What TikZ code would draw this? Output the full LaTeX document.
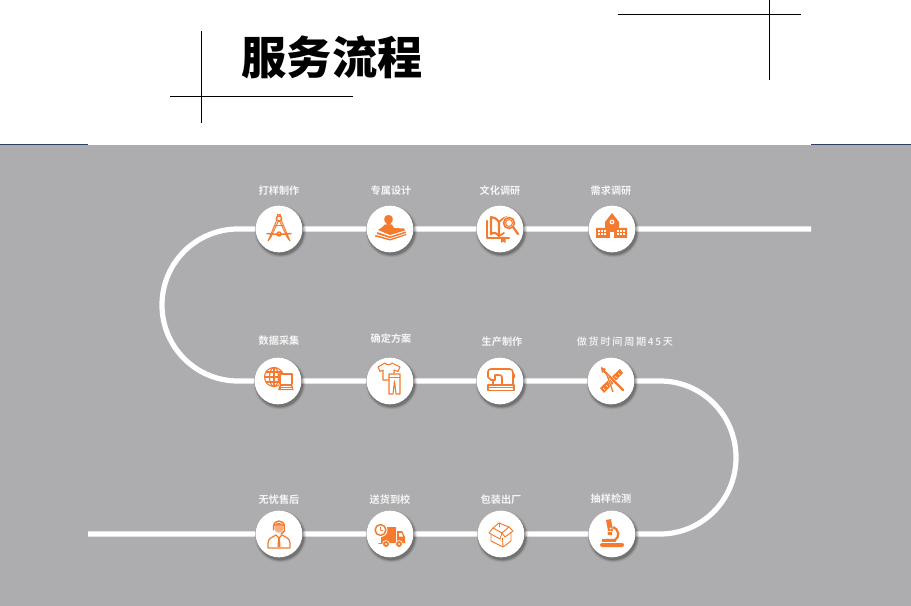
\documentclass[tikz,border=0pt]{standalone}
\usepackage{fontspec}
\setmainfont{Noto Sans CJK SC}[BoldFont={Noto Sans CJK SC Bold}]
\newfontfamily\titlefont{Noto Sans CJK SC Black}
\newfontfamily\labelfont{Noto Sans CJK SC Bold}
\newfontfamily\spacedfont{Noto Sans CJK SC Medium}[LetterSpace=17]
\usetikzlibrary{backgrounds}
\definecolor{bggray}{HTML}{ADADAF}
\definecolor{iconor}{HTML}{F37A2F}
\definecolor{rulecol}{HTML}{2E3F66}
\tikzset{
  x=0.75pt,y=-0.75pt,
  disc/.style={circle,fill=white,minimum size=35pt,inner sep=0pt},
  caption/.style={text=white!96!black,font=\labelfont\fontsize{7.6pt}{9pt}\selectfont,inner sep=0pt},
  road/.style={draw=white,line width=3.9pt},
  thin rule/.style={draw=black,line width=0.6pt},
  ol/.style={draw=iconor,line width=0.7pt,line join=round,line cap=round},
  ok/.style={draw=iconor,line width=1.1pt,line join=round,line cap=round},
  fl/.style={fill=iconor},
  wl/.style={fill=white}
}
\begin{document}
\begin{tikzpicture}
\useasboundingbox (0,0) rectangle (911,606);
\coordinate (roadstart) at (811,229);
\coordinate (roadend) at (88,534);
\node[disc] (a1) at (279,229) {};
\node[disc] (a2) at (390,229) {};
\node[disc] (a3) at (500,229) {};
\node[disc] (a4) at (612,229) {};
\node[disc] (b1) at (278,381) {};
\node[disc] (b2) at (390,381) {};
\node[disc] (b3) at (500,381) {};
\node[disc] (b4) at (611,381) {};
\node[disc] (c1) at (279,534) {};
\node[disc] (c2) at (390,534) {};
\node[disc] (c3) at (501,534) {};
\node[disc] (c4) at (612,534) {};
\begin{scope}[on background layer]
  \fill[bggray] (0,145) rectangle (911,606);
  \coordinate (rl1) at (0,145);\coordinate (rl2) at (88,145);
  \coordinate (rr1) at (811,145);\coordinate (rr2) at (911,145);
  \draw[rulecol,line width=0.75pt] (rl1) -- (rl2);
  \draw[rulecol,line width=0.75pt] (rr1) -- (rr2);
  \draw[road] (roadstart) -- (a4) -- (a3) -- (a2) -- (a1) -- (238,229)
     .. controls (196,229) and (162,263) .. (162,305)
     .. controls (162,347) and (196,381) .. (238,381)
     -- (b1) -- (b2) -- (b3) -- (b4) -- (660,381)
     .. controls (702,381) and (736,415) .. (736,457.5)
     .. controls (736,500) and (702,534) .. (660,534)
     -- (c4) -- (c3) -- (c2) -- (c1) -- (roadend);
  \foreach \r/\o in {26/.05,25.2/.08,24.4/.11,23.6/.15}
    \foreach \px/\py in {279/229,390/229,500/229,612/229,278/381,390/381,500/381,611/381,279/534,390/534,501/534,612/534}
      \fill[black,opacity=\o] (\px+1.5,\py+2.5) circle[radius=\r];
\end{scope}
\node[font=\titlefont\fontsize{33.9pt}{36pt}\selectfont,inner sep=0pt] (title) at (332,57.5) {服务流程};
\coordinate (tlv1) at (201,31);\coordinate (tlv2) at (201,123);
\coordinate (tlh1) at (170,96);\coordinate (tlh2) at (353,96);
\coordinate (trv1) at (769,0);\coordinate (trv2) at (769,80);
\coordinate (trh1) at (618,14);\coordinate (trh2) at (801,14);
\draw[thin rule] (tlv1) -- (tlv2);\draw[thin rule] (tlh1) -- (tlh2);
\draw[thin rule] (trv1) -- (trv2);\draw[thin rule] (trh1) -- (trh2);
% captions
\node[caption] (ta1) at (279,191) {打样制作};
\node[caption] (ta2) at (391,191) {专属设计};
\node[caption] (ta3) at (500,191) {文化调研};
\node[caption] (ta4) at (611,191) {需求调研};
\node[caption] (tb1) at (279,341) {数据采集};
\node[caption] (tb2) at (391,339) {确定方案};
\node[caption] (tb3) at (502,342) {生产制作};
\node[caption,font=\spacedfont\fontsize{7.6pt}{9pt}\selectfont] (tb4) at (625,342) {做货时间周期45天};
\node[caption] (tc1) at (279,500) {无忧售后};
\node[caption] (tc2) at (390,500) {送货到校};
\node[caption] (tc3) at (501,500) {包装出厂};
\node[caption] (tc4) at (611,499) {抽样检测};
% compass
\begin{scope}[shift={(a1)}]
  \draw[ol] (-1.5,-15) rectangle (1.5,-13);
  \draw[ok] (0,-10.5) circle[radius=2.6];
  \draw[ol] (-2.2,-9) -- (-11,12) -- (-8,8) -- (-.6,-8);
  \draw[ol] (2.2,-9) -- (11,12) -- (8,8) -- (.6,-8);
  \draw[ok] (-12,4.5) .. controls (-5,5.5) and (5,5.5) .. (12,4.5);
  \draw[ol] (-5,-3.5) -- (5,-3.5);
  \draw[ok] (0,5) circle[radius=2];
\end{scope}
% person on book
\begin{scope}[shift={(a2)}]
  \fill[fl] (-1.5,-14) .. controls (-6.5,-14) and (-7,-8) .. (-4,-6) -- (-1.5,-3) -- (1,-6) .. controls (4,-8) and (3.5,-14) .. (-1.5,-14) -- cycle;
  \fill[fl] (-12,1) .. controls (-9,-1) and (-7,-2) .. (-5,-4.5) -- (2,-4.5) .. controls (3,-2) and (4,-1) .. (4,-1) -- (14,-0.5) -- (15,1.5) -- (0,6) -- cycle;
  \fill[fl] (-13,3) -- (0,7.5) -- (15.5,2.5) -- (16,4) -- (0,9) -- (-13,5) -- cycle;
  \fill[fl] (-14.5,6) -- (0,10) -- (16,5) -- (16.5,6) -- (0,11.5) -- (-15,7.5) -- cycle;
\end{scope}
% book and lens
\begin{scope}[shift={(a3)}]
  \draw[ok,line width=1.7pt] (-13,-8) -- (-13,9) -- (9,9);
  \draw[ok,line width=1.6pt] (-9,-12) -- (-9,5) .. controls (-6,3) and (-3,4) .. (-1,7) -- (-1,-7) .. controls (-3,-10) and (-6,-12) .. (-9,-12);
  \draw[ok,line width=1.4pt] (-1,-7) .. controls (1,-9) and (3,-11) .. (7,-12);
  \draw[ok,line width=1.4pt] (-1,7) -- (4,4);
  \fill[white] (9,-6) circle[radius=6.8];
  \draw[ok,line width=1.3pt] (9,-6) circle[radius=5.4];
  \draw[ol] (9,-6) circle[radius=3.4];
  \draw[iconor,line width=1.7pt,line cap=round] (13,-2) -- (18,5);
  \fill[fl] (1,8) -- (5.5,8) -- (5.5,14) -- (3.2,12.5) -- (1,14) -- cycle;
\end{scope}
% school
\begin{scope}[shift={(a4)}]
  \fill[fl] (-16,-1) -- (-7,-1) -- (-7,-7) -- (0,-16) -- (7,-7) -- (7,-1) -- (15,-1) -- (15,9) -- (-16,9) -- cycle;
  \fill[wl] (0,-7) circle[radius=2.4];
  \fill[fl] (0,-7) circle[radius=1.2];
  \fill[wl] (-2,3) rectangle (2,9);
  \foreach \wx in {-14,-11,-8,5,8,11}
    \foreach \wy in {1,4.5}
      \fill[wl] (\wx,\wy) rectangle +(2,2);
\end{scope}
% globe and laptop
\begin{scope}[shift={(b1)}]
  \begin{scope}[ok,line width=.85pt]
    \draw (-4,-4) circle[radius=9.5];
    \draw (-4,-4) ellipse[x radius=4.5,y radius=9.5];
    \draw (-13.5,-4) -- (5.5,-4) (-4,-13.5) -- (-4,5.5);
    \draw (-12,-9) -- (4,-9) (-12,1) -- (4,1);
  \end{scope}
  \fill[white] (1,-8) rectangle (16,10);
  \draw[ok] (2,3) -- (2,-7) -- (14,-7) -- (14,3);
  \fill[fl] (2,3) -- (14,3) -- (15.5,9) -- (0,9) -- cycle;
  \draw[white,line width=.4pt] (3,5) -- (13,5) (2.5,7) -- (13.5,7);
\end{scope}
% clothes
\begin{scope}[shift={(b2)}]
  \draw[ok,line width=.8pt] (-5,-18) .. controls (-3,-15.5) and (0,-15.5) .. (2,-18) -- (10,-14) -- (8,-9.5) -- (4,-11) -- (4,-1) -- (-7,-1) -- (-7,-11) -- (-10,-9.5) -- (-12,-14) -- cycle;
  \draw[ok,line width=.8pt,fill=white] (-1,-7) -- (10,-7) -- (10,13) -- (6,13) -- (4.5,0) -- (3,13) -- (-1,13) -- cycle;
  \draw[ol] (-1,-4) -- (10,-4);
\end{scope}
% sewing machine
\begin{scope}[shift={(b3)}]
  \draw[ok,line width=1.2pt] (-9,-12) -- (10,-12) .. controls (12,-12) and (13,-10) .. (13,-8) -- (13,4) -- (2,4) -- (2,-4) .. controls (2,-6) and (0,-6) .. (-2,-6) -- (-5,-6) -- (-5,-1) -- (-9,-1) -- (-12,-4) -- (-12,-9) .. controls (-12,-11) and (-11,-12) .. (-9,-12);
  \draw[ok] (-7,-1) -- (-7,3);
  \draw[ok,line width=1.2pt] (-12,4) -- (14,4) -- (14,9.5) -- (-12,9.5) -- cycle;
  \draw[ol] (-12,6.7) -- (14,6.7);
  \fill[fl] (13,-7) rectangle (15,-3);
\end{scope}
% tools
\begin{scope}[shift={(b4)}]
  \fill[fl] (-11,7) -- (9,-12) -- (12,-8) -- (-7,12) -- cycle;
  \draw[white,line width=.5pt] (-8,7) -- (-6,9) (-5,4) -- (-3,6) (-2,1) -- (0,3) (1,-2) -- (3,0) (4,-5) -- (6,-3) (7,-8) -- (9,-6);
  \draw[white,line width=2.6pt] (-9,-12) -- (10,7);
  \draw[iconor,line width=1.6pt,line cap=round] (-9,-12) -- (12,9);
  \fill[fl] (-10,-14) -- (-5,-12) -- (-9,-8) -- cycle;
  \draw[white,line width=1.4pt] (-4,-6) -- (2,11);
  \draw[iconor,line width=1pt] (-4,-6) -- (2,11);
\end{scope}
% support agent
\begin{scope}[shift={(c1)}]
  \draw[ok] (-5.5,-7) .. controls (-5.5,-15) and (5.5,-15) .. (5.5,-7);
  \fill[iconor!60] (0,-6) circle[radius=4.8];
  \fill[fl] (-5,-8) .. controls (-3,-12) and (3,-12) .. (5,-8) .. controls (2,-9) and (-2,-9) .. (-5,-8);
  \draw[ok] (-5.5,-7) -- (-5.5,-4) (5.5,-7) -- (5.5,-3) -- (2,0);
  \draw[ok,line width=.9pt] (-11,14) -- (-11,9) .. controls (-11,4) and (-6,3) .. (-3,1) -- (0,4) -- (3,1) .. controls (6,3) and (11,4) .. (11,9) -- (11,14) -- cycle;
  \fill[fl] (-1,3.5) -- (1,3.5) -- (1.5,13) -- (-1.5,13) -- cycle;
\end{scope}
% delivery truck
\begin{scope}[shift={(c2)}]
  \fill[fl] (-6,-7) -- (6,-7) -- (6,9) -- (-9,9) -- (-9,3) -- cycle;
  \fill[fl] (7,-3) -- (12,-3) -- (15,3) -- (15,9) -- (7,9) -- cycle;
  \fill[wl] (9,-1) -- (11.5,-1) -- (13,2.5) -- (9,2.5) -- cycle;
  \fill[white] (-9.5,-4) circle[radius=7];
  \draw[ok,line width=1.1pt] (-9.5,-4) circle[radius=5.4];
  \draw[ok,line width=.7pt] (-9.5,-7) -- (-9.5,-4) -- (-7,-3);
  \foreach \wx in {-4,9}{
    \fill[white] (\wx,10) circle[radius=3.8];
    \fill[fl] (\wx,10) circle[radius=3];
    \fill[white] (\wx,10) circle[radius=1];}
  \draw[ok] (-11,9.5) -- (-8,9.5);
\end{scope}
% parcel box
\begin{scope}[shift={(c3)}]
  \begin{scope}[ol]
    \draw (-8,-6) -- (-2,-11) -- (8,-7) -- (1,-1) -- cycle;
    \draw (-2,-11) -- (-2,-7);
    \draw (-8,-6) -- (-12,-1) -- (-1,5) -- (1,-1);
    \draw (8,-7) -- (12,-3) -- (4,3) -- (1,-1);
    \draw (-10,1) -- (-10,7) -- (2,13) -- (10,7) -- (10,-1.5);
    \draw (2,13) -- (1.5,4);
  \end{scope}
\end{scope}
% microscope
\begin{scope}[shift={(c4)}]
  \fill[fl,rounded corners=1.5pt] (-12,9) rectangle (12,13);
  \fill[fl] (-6,-14) -- (-1,-15) -- (1,-3) -- (-4,-3) -- cycle;
  \fill[fl] (-4.5,-2) -- (0,-2) -- (0,1) -- (-4,1) -- cycle;
  \draw[iconor,line width=1.7pt] (1,-7) .. controls (7,-5) and (8,3) .. (3,6) -- (-8,6);
  \fill[fl] (-10,5) rectangle (4,8);
  \fill[wl] (-1.5,-5.5) circle[radius=1];
\end{scope}
\end{tikzpicture}
\end{document}
